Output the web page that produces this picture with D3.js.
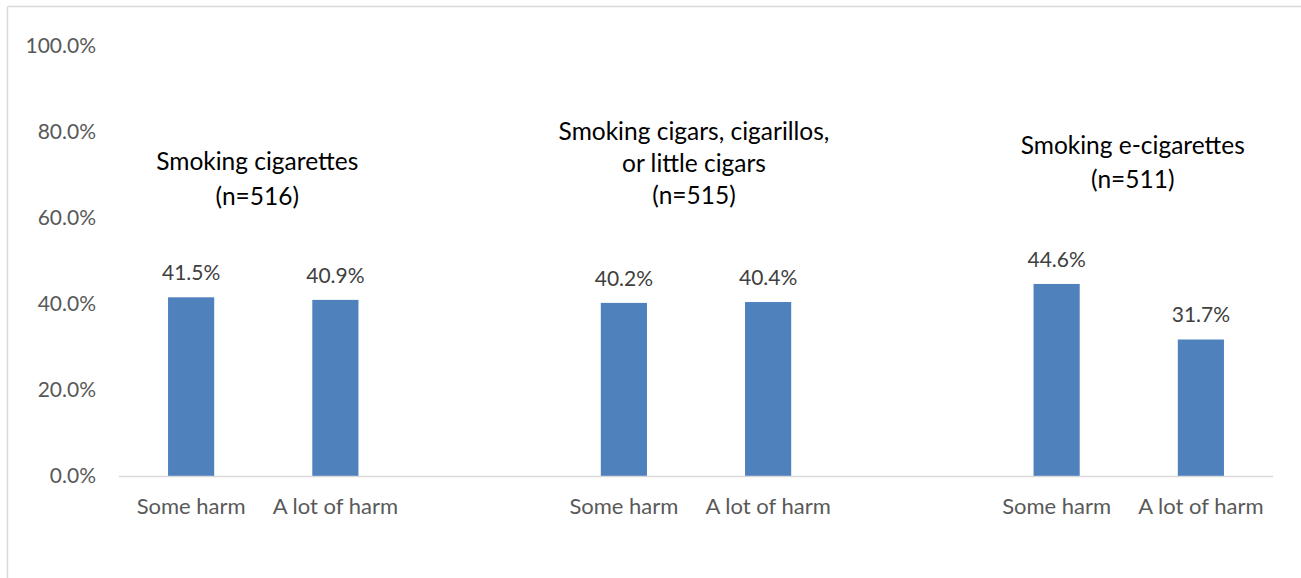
<!DOCTYPE html>
<html><head><meta charset="utf-8">
<script src="https://cdn.jsdelivr.net/npm/d3@7"></script>
<style>body{margin:0;background:#fff}svg{display:block}text{font-family:Lato,sans-serif}</style>
</head><body><svg id="c" width="1301" height="578"></svg>
<script>
const categories = ["c1","c2","gap1","c3","c4","gap2","c5","c6"];
const barLabels = ["Some harm","A lot of harm","","Some harm","A lot of harm","","Some harm","A lot of harm"];
const values = [41.5,40.9,null,40.2,40.4,null,44.6,31.7];
const groupTitles = [
  ["Smoking cigarettes","(n=516)"],
  ["Smoking cigars, cigarillos,","or little cigars","(n=515)"],
  ["Smoking e-cigarettes","(n=511)"]
];
const groupMembers = [["c1","c2"],["c3","c4"],["c5","c6"]];
const yTicks = [0,20,40,60,80,100];

const svg = d3.select("#c");
svg.append("line").attr("x1",7.5).attr("x2",1301).attr("y1",6.5).attr("y2",6.5).attr("stroke","#d9d9d9").attr("stroke-width",1.5);
svg.append("line").attr("x1",7.5).attr("x2",7.5).attr("y1",6.5).attr("y2",578).attr("stroke","#d9d9d9").attr("stroke-width",1.5);

const x = d3.scaleBand().domain(categories).range([119,1273]).paddingInner(0.68).paddingOuter(0.34);
const y = d3.scaleLinear().domain([0,100]).range([476,45.4]);

svg.append("g").selectAll("text").data(yTicks).join("text")
  .attr("x",96).attr("y",d=>y(d)).attr("dy","0.35em").attr("text-anchor","end")
  .attr("fill","#595959").attr("font-size",21).text(d=>d3.format(".1f")(d)+"%");

const data = categories.map((c,i)=>({c,v:values[i],lab:barLabels[i]})).filter(d=>d.v!=null);
svg.append("g").selectAll("rect").data(data).join("rect")
  .attr("x",d=>x(d.c)).attr("width",x.bandwidth())
  .attr("y",d=>y(d.v)).attr("height",d=>y(0)-y(d.v)).attr("fill","#4f81bd");

svg.append("line").attr("x1",119).attr("x2",1273).attr("y1",y(0)+0.5).attr("y2",y(0)+0.5).attr("stroke","#d9d9d9").attr("stroke-width",1.5);

svg.append("g").selectAll("text").data(data).join("text")
  .attr("x",d=>x(d.c)+x.bandwidth()/2).attr("y",d=>y(d.v)-17).attr("text-anchor","middle")
  .attr("fill","#404040").attr("font-size",21).text(d=>d.v.toFixed(1)+"%");

svg.append("g").selectAll("text").data(data).join("text")
  .attr("x",d=>x(d.c)+x.bandwidth()/2).attr("y",514).attr("text-anchor","middle")
  .attr("fill","#595959").attr("font-size",22).text(d=>d.lab);

const titleTop = [170,140,154];
const lineH = [35,32,34];
const titleShift = [-6,-2,4];
groupTitles.forEach((lines,gi)=>{
  const m = groupMembers[gi];
  const cx = (x(m[0])+x(m[1])+x.bandwidth())/2;
  lines.forEach((t,li)=>{
    svg.append("text").attr("x",cx+titleShift[gi]).attr("y",titleTop[gi]+li*lineH[gi]).attr("text-anchor","middle")
      .attr("fill","#000").attr("font-size",24.5).text(t);
  });
});
</script></body></html>
